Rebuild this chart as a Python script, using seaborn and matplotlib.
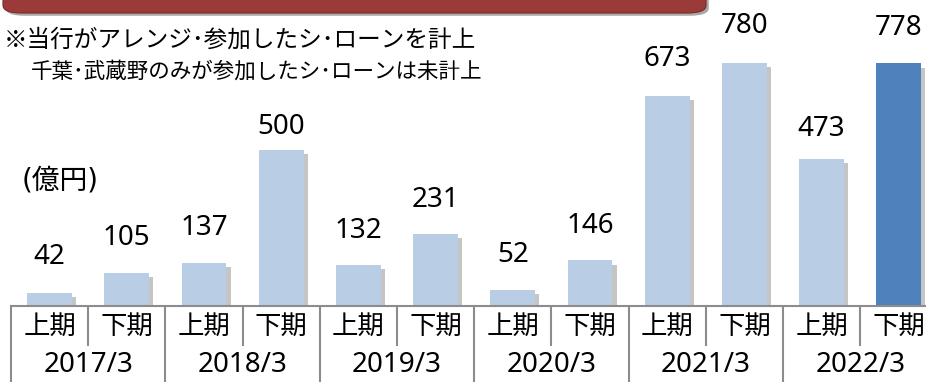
import matplotlib
matplotlib.use("Agg")
import matplotlib.pyplot as plt
import matplotlib.patheffects as pe
from matplotlib.patches import FancyBboxPatch
import matplotlib.transforms as mtransforms
import seaborn as sns
import pandas as pd

sns.set_theme(style="white")
plt.rcParams["font.family"] = ["Noto Sans", "Noto Sans CJK JP"]

# Syndicated loan volume by half-year (億円)
years = ["2017/3", "2018/3", "2019/3", "2020/3", "2021/3", "2022/3"]
halves = ["上期", "下期"]
values = [42, 105, 137, 500, 132, 231, 52, 146, 673, 780, 473, 778]
bar_colors = ["#B9CDE5"] * 11 + ["#4F81BD"]

# distance (px) from each bar top up to the centre of its value label
label_gap_px = [39, 39, 39, 27, 37, 37, 38, 38, 41, 40, 33, 39]

periods = [f"{y} {h}" for y in years for h in halves]
df = pd.DataFrame({"period": periods, "amount": values})

W, H = 926, 382
fig = plt.figure(figsize=(W / 100, H / 100), dpi=100)
ax = fig.add_axes([11 / W, 76 / H, 926.4 / W, 306 / H])

sns.barplot(data=df, x="period", y="amount", hue="period",
            palette=bar_colors, legend=False, width=0.58,
            saturation=1, ax=ax)

shadow = [pe.SimplePatchShadow(offset=(3, -3), shadow_rgbFace="#707070", alpha=0.4),
          pe.Normal()]
for bar in ax.patches:
    bar.set_path_effects(shadow)
    bar.set_edgecolor("none")

ax.set_ylim(0, 306 / 0.3117)
ax.set_xlim(-0.5, 11.5)
ax.set_xlabel("")
ax.set_ylabel("")
ax.set_xticks([])
ax.set_yticks([])
for s in ["top", "right", "left"]:
    ax.spines[s].set_visible(False)
ax.spines["bottom"].set_color("#8c8c8c")
ax.spines["bottom"].set_linewidth(1.5)

# value labels above each bar
for i, (v, gap) in enumerate(zip(values, label_gap_px)):
    ax.annotate(f"{v}", xy=(i, v), xytext=(0, gap * 0.72), textcoords="offset points",
                ha="center", va="center_baseline", fontsize=20, color="black",
                family="Noto Sans")

# category table under the axis
trans = mtransforms.blended_transform_factory(ax.transData, ax.transAxes)
bottom = -76 / 306
mid = -40 / 306
for k in range(len(years) + 1):
    x = -0.5 + 2 * k
    ax.plot([x, x], [0, bottom], transform=trans, color="#8c8c8c", lw=1.5,
            clip_on=False, solid_capstyle="butt")
for k in range(len(years)):
    x = 0.5 + 2 * k
    ax.plot([x, x], [0, mid], transform=trans, color="#8c8c8c", lw=1.5,
            clip_on=False, solid_capstyle="butt")

for i, p in enumerate(periods):
    ax.text(i, -20 / 306, p.split()[1], transform=trans, ha="center", va="center",
            fontsize=19, family="Noto Sans CJK JP", color="black")
for k, y in enumerate(years):
    ax.text(0.5 + 2 * k, -59 / 306, y, transform=trans, ha="center", va="center",
            fontsize=20, family="Noto Sans", color="black")

# title banner along the top edge
banner = FancyBboxPatch((3 / W, (H - 13) / H), 703 / W, 40 / H,
                        boxstyle="round,pad=0,rounding_size=0.02",
                        transform=fig.transFigure, facecolor="#9A3B39",
                        edgecolor="#7a2a28", lw=0.8,
                        path_effects=[pe.SimplePatchShadow(offset=(2, -2), shadow_rgbFace="#555555", alpha=0.5),
                                      pe.Normal()])
fig.patches.append(banner)

# notes and unit
fig.text(4 / W, 1 - 40 / H, "※当行がアレンジ･参加したシ･ローンを計上",
         ha="left", va="center", fontsize=17, family="Noto Sans CJK JP", color="black")
fig.text(31 / W, 1 - 72 / H, "千葉･武蔵野のみが参加したシ･ローンは未計上",
         ha="left", va="center", fontsize=15.5, family="Noto Sans CJK JP", color="black")
fig.text(22 / W, 1 - 181 / H, "(億円)", ha="left", va="center", fontsize=20,
         family=["DejaVu Sans", "Noto Sans CJK JP"], color="black")

fig.savefig("out.png", dpi=100)
